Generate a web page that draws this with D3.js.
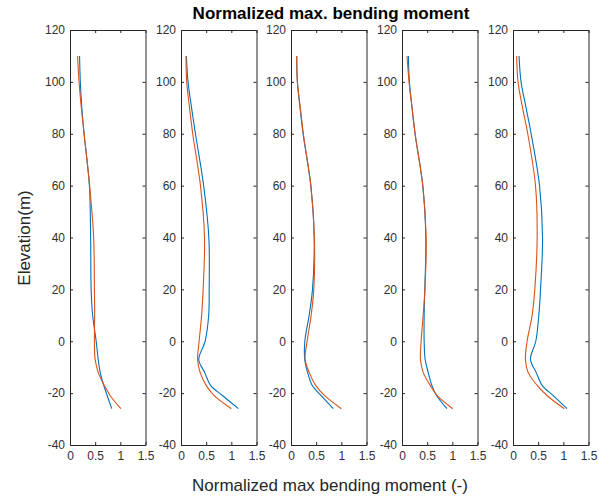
<!DOCTYPE html>
<html>
<head>
<meta charset="utf-8">
<script src="https://cdn.jsdelivr.net/npm/d3@7"></script>
<style>
  html, body { margin: 0; padding: 0; background: #fff; }
  svg { display: block; font-family: "Liberation Sans", Arial, Helvetica, sans-serif; }
</style>
</head>
<body>
<svg id="chart" width="599" height="496"></svg>
<script>
// ---------- data ----------
const elevation = [110, 100, 90, 80, 60, 40, 20, 10, 0, -7, -12, -17, -21, -26];

const panel1Blue   = [0.19, 0.205, 0.235, 0.28, 0.385, 0.41, 0.42, 0.45, 0.52, 0.56, 0.60, 0.67, 0.74, 0.83];
const panel1Orange = [0.15, 0.18, 0.225, 0.28, 0.39, 0.47, 0.485, 0.49, 0.485, 0.50, 0.56, 0.68, 0.80, 1.01];

const panel2Blue   = [0.107, 0.14, 0.21, 0.287, 0.45, 0.553, 0.56, 0.55, 0.48, 0.353, 0.47, 0.587, 0.83, 1.14];
const panel2Orange = [0.10, 0.113, 0.17, 0.233, 0.387, 0.467, 0.44, 0.41, 0.36, 0.33, 0.38, 0.50, 0.66, 1.0];

const panel3Blue   = [0.113, 0.127, 0.18, 0.24, 0.393, 0.46, 0.427, 0.36, 0.275, 0.273, 0.33, 0.42, 0.60, 0.84];
const panel3Orange = [0.113, 0.127, 0.185, 0.245, 0.395, 0.465, 0.453, 0.40, 0.32, 0.28, 0.36, 0.49, 0.67, 1.0];

const panel4Blue   = [0.127, 0.147, 0.20, 0.26, 0.413, 0.473, 0.453, 0.44, 0.44, 0.46, 0.52, 0.593, 0.69, 0.893];
const panel4Orange = [0.10, 0.14, 0.20, 0.26, 0.413, 0.48, 0.455, 0.42, 0.38, 0.367, 0.42, 0.56, 0.70, 1.007];

const panel5Blue   = [0.12, 0.16, 0.26, 0.36, 0.527, 0.587, 0.547, 0.513, 0.453, 0.347, 0.46, 0.58, 0.80, 1.073];
const panel5Orange = [0.073, 0.10, 0.19, 0.293, 0.447, 0.48, 0.433, 0.38, 0.28, 0.247, 0.30, 0.48, 0.68, 1.02];

const xTicks = [0, 0.5, 1, 1.5];
const xTickLabels = ["0", "0.5", "1", "1.5"];
const yTicks = [-40, -20, 0, 20, 40, 60, 80, 100, 120];
const yTickLabels = ["-40", "-20", "0", "20", "40", "60", "80", "100", "120"];

const titleText = "Normalized max. bending moment";
const xLabelText = "Normalized max bending moment (-)";
const yLabelText = "Elevation(m)";

const panels = [
  [panel1Blue, panel1Orange],
  [panel2Blue, panel2Orange],
  [panel3Blue, panel3Orange],
  [panel4Blue, panel4Orange],
  [panel5Blue, panel5Orange]
];
const colors = ["#0072BD", "#D95319"];

// ---------- layout ----------
const svg = d3.select("#chart");
const plotTop = 30, plotBottom = 445;
const left0 = 70, step = 110.7, pw = 75.5;
const axisColor = "#262626";

const y = d3.scaleLinear().domain([-40, 120]).range([plotBottom, plotTop]);

panels.forEach((series, i) => {
  const L = Math.round(left0 + i * step);
  const x = d3.scaleLinear().domain([0, 1.5]).range([L, L + pw]);
  const g = svg.append("g");

  const line = d3.line()
    .x((d) => x(d[0]))
    .y((d) => y(d[1]))
    .curve(d3.curveCatmullRom.alpha(0.5));

  series.forEach((vals, k) => {
    const pts = vals.map((v, j) => [v, elevation[j]]);
    g.append("path")
      .attr("d", line(pts))
      .attr("fill", "none")
      .attr("stroke", colors[k])
      .attr("stroke-width", 1.1);
  });

  // axes
  const ax = g.append("g").attr("class", "axes");
  ax.append("g").attr("transform", `translate(${L},0)`)
    .call(d3.axisLeft(y).tickValues(yTicks).tickFormat((d, j) => yTickLabels[j])
      .tickSizeInner(-3).tickSizeOuter(0).tickPadding(5));
  ax.append("g").attr("transform", `translate(${L + pw},0)`)
    .call(d3.axisRight(y).tickValues(yTicks).tickFormat("")
      .tickSizeInner(-3).tickSizeOuter(0));
  ax.append("g").attr("transform", `translate(0,${plotBottom})`)
    .call(d3.axisBottom(x).tickValues(xTicks).tickFormat((d, j) => xTickLabels[j])
      .tickSizeInner(-3).tickSizeOuter(0).tickPadding(6));
  ax.append("g").attr("transform", `translate(0,${plotTop})`)
    .call(d3.axisTop(x).tickValues(xTicks).tickFormat("")
      .tickSizeInner(-3).tickSizeOuter(0));

  ax.selectAll("path.domain").attr("stroke", axisColor).attr("stroke-width", 1);
  ax.selectAll(".tick line").attr("stroke", axisColor).attr("stroke-width", 1);
  ax.selectAll(".tick text")
    .attr("fill", "#303030")
    .style("font-size", "12px")
    .style("font-family", '"Liberation Sans", Arial, sans-serif');
});

// title
svg.append("text")
  .attr("x", 331).attr("y", 19)
  .attr("text-anchor", "middle")
  .attr("fill", "#000")
  .style("font-weight", "bold")
  .style("font-size", "17px")
  .text(titleText);

// x label
svg.append("text")
  .attr("x", 330).attr("y", 491)
  .attr("text-anchor", "middle")
  .attr("fill", "#262626")
  .style("font-size", "17px")
  .text(xLabelText);

// y label
svg.append("text")
  .attr("transform", "translate(30,238) rotate(-90)")
  .attr("text-anchor", "middle")
  .attr("fill", "#262626")
  .style("font-size", "17px")
  .text(yLabelText);
</script>
</body>
</html>
